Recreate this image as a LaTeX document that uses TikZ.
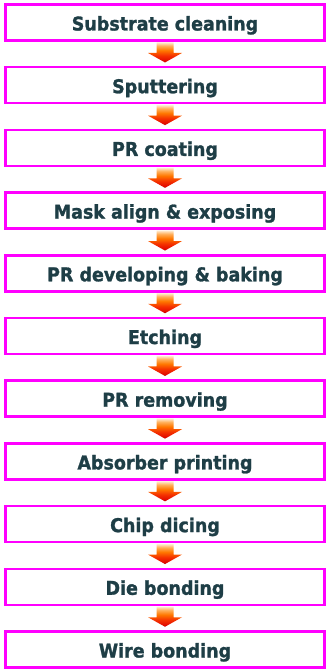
\documentclass[tikz,border=0pt]{standalone}
\usepackage{fontspec}
\setmainfont{DejaVu Sans}
\newfontfamily\boxfont[FakeBold=1.3,FakeStretch=0.92]{DejaVu Sans Bold}
\usetikzlibrary{calc}
\definecolor{boxmag}{RGB}{255,0,255}
\definecolor{txtcol}{RGB}{30,62,70}
\pgfdeclareverticalshading{arrowgrad}{100bp}{%
  color(0bp)=(rgb,255:red,160;green,0;blue,0);
  color(25bp)=(rgb,255:red,160;green,0;blue,0);
  color(29bp)=(rgb,255:red,225;green,10;blue,0);
  color(42bp)=(rgb,255:red,245;green,50;blue,0);
  color(55bp)=(rgb,255:red,255;green,120;blue,0);
  color(66bp)=(rgb,255:red,255;green,175;blue,90);
  color(75bp)=(rgb,255:red,255;green,238;blue,215);
  color(100bp)=(rgb,255:red,255;green,238;blue,215)}
\begin{document}
\begin{tikzpicture}[x=1pt,y=-1pt,
  stepbox/.style={draw=boxmag, line width=2.5pt, minimum width=319pt, minimum height=36pt,
    inner sep=0pt, fill=white, text=txtcol, text height=18pt, text depth=2pt,
    font=\boxfont\fontsize{19}{21}\selectfont},
  arrowshade/.style={shading=arrowgrad, draw=none}]
\useasboundingbox[fill=white] (0,0) rectangle (326,671);
\newcommand{\flowarrow}[2]{%
  \shade[arrowshade] let \p1=(#1.south), \p2=(#2.north) in
    (\x1-8.5pt,\y1-0.5pt) -- (\x1+8.5pt,\y1-0.5pt) -- (\x1+8.5pt,\y2+13pt) --
    (\x1+17pt,\y2+13pt) -- (\x1,\y2+3.5pt) -- (\x1-17pt,\y2+13pt) --
    (\x1-8.5pt,\y2+13pt) -- cycle;}
\node[stepbox] (n1)  at (165,22.5)  {Substrate cleaning};
\node[stepbox] (n2)  at (165,85.2)  {Sputtering};
\node[stepbox] (n3)  at (165,147.9) {PR coating};
\node[stepbox] (n4)  at (165,210.6) {Mask align \& exposing};
\node[stepbox] (n5)  at (165,273.3) {PR developing \& baking};
\node[stepbox] (n6)  at (165,336.0) {Etching};
\node[stepbox] (n7)  at (165,398.7) {PR removing};
\node[stepbox] (n8)  at (165,461.4) {Absorber printing};
\node[stepbox] (n9)  at (165,524.1) {Chip dicing};
\node[stepbox] (n10) at (165,586.8) {Die bonding};
\node[stepbox] (n11) at (165,649.5) {Wire bonding};
\flowarrow{n1}{n2}
\flowarrow{n2}{n3}
\flowarrow{n3}{n4}
\flowarrow{n4}{n5}
\flowarrow{n5}{n6}
\flowarrow{n6}{n7}
\flowarrow{n7}{n8}
\flowarrow{n8}{n9}
\flowarrow{n9}{n10}
\flowarrow{n10}{n11}
\end{tikzpicture}
\end{document}
